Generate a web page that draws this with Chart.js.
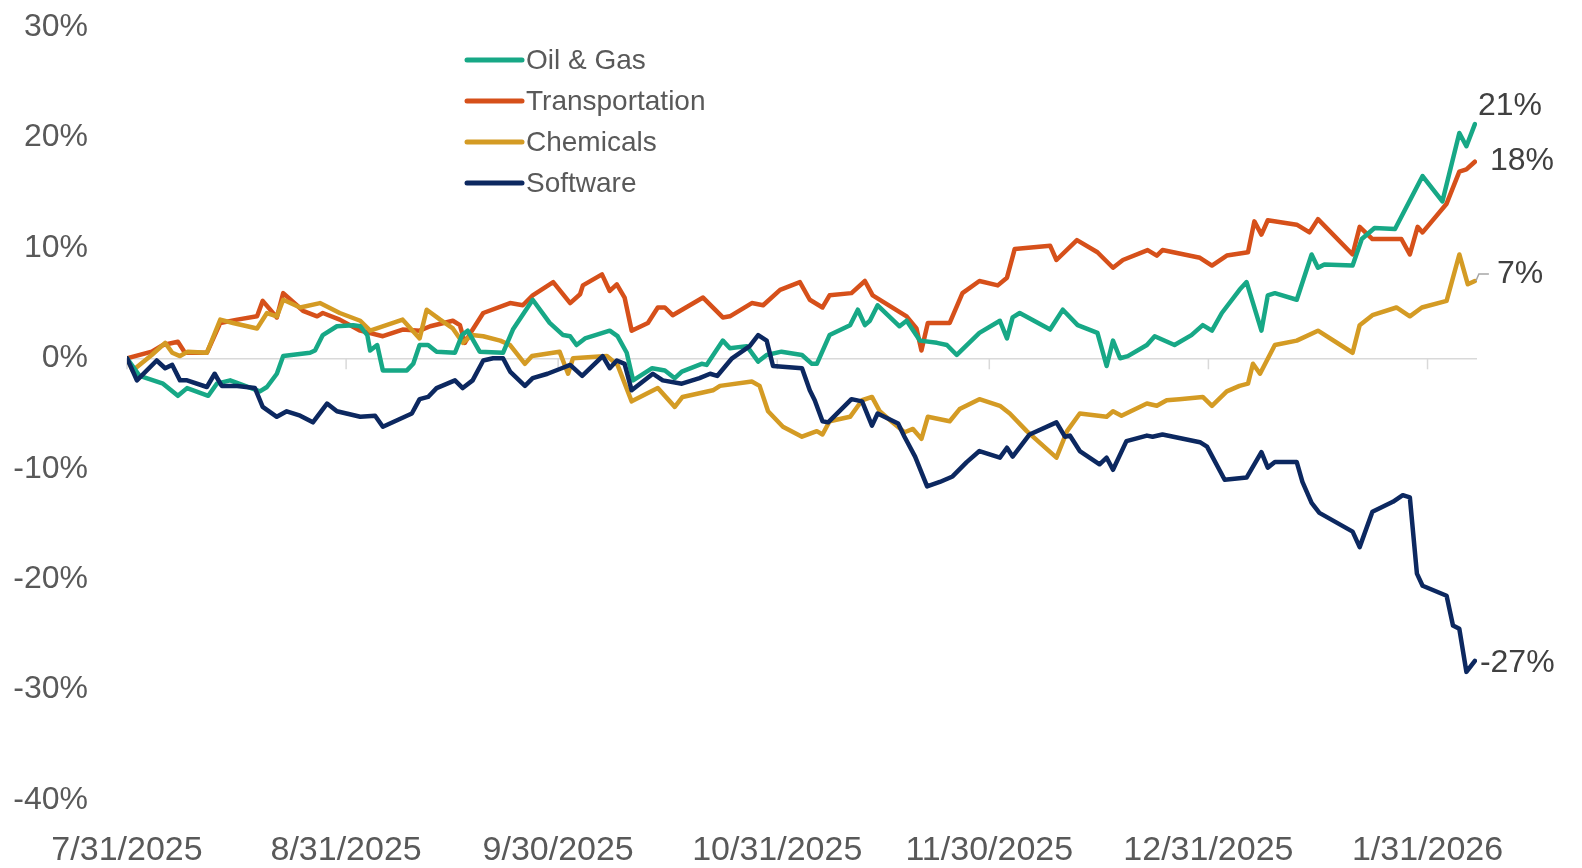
<!DOCTYPE html>
<html>
<head>
<meta charset="utf-8">
<script src="https://cdn.jsdelivr.net/npm/chart.js@4.4.1/dist/chart.umd.min.js"></script>
<style>
  html, body { margin: 0; padding: 0; background: #ffffff; }
  #wrap { width: 1582px; height: 868px; position: relative; }
</style>
</head>
<body>
<div id="wrap"><canvas id="chart"></canvas></div>
<script>
// x values are days since 7/31/2025, y values are % change
const seriesNames = ['Oil & Gas', 'Transportation', 'Chemicals', 'Software'];

const oilDays = [0,1.8,5.1,7.2,8.5,11.5,12.7,14.6,18.8,19.8,21.2,22.1,25.9,26.6,27.7,29.7,32,33,34,34.4,35.4,36.2,39.6,40.5,41.4,42.6,43.8,46.4,47.4,48.2,49.9,53.2,54.6,57.4,59.8,61.7,62.7,63.6,64.8,68.3,69.4,70.7,71.6,72.6,74.3,76.1,77.5,78.5,81.3,82,84.3,85.3,87.7,89.3,90.5,92.6,95.5,96.9,97.6,99.4,102.3,103.4,104.4,105.1,106.2,109.3,110.3,112.2,114.6,116,117.4,120.6,123.5,124.5,125.3,126.3,130.6,132.4,134.5,137.3,138.6,139.5,140.5,141.6,144.3,145.4,148.2,150.6,152.2,153.5,154.9,157.4,158.4,160.5,161.4,162.4,165.5,167.6,168.5,169.4,173.4,174.7,176.5,179.4,183.3,186.1,188.5,189.5,190.7];
const oilVals = [0,-1.6,-2.3,-3.4,-2.7,-3.4,-2.3,-2.0,-3.0,-2.6,-1.4,0.2,0.5,0.7,2.1,2.9,3.0,2.9,2.1,0.7,1.2,-1.1,-1.1,-0.5,1.2,1.2,0.6,0.5,2.1,2.5,0.6,0.5,2.6,5.3,3.2,2.1,2.0,1.2,1.8,2.5,2.0,0.5,-2.0,-1.6,-0.9,-1.1,-1.8,-1.2,-0.5,-0.6,1.6,0.9,1.1,-0.3,0.3,0.6,0.3,-0.5,-0.5,2.1,3.0,4.4,3.0,3.4,4.8,2.9,3.4,1.6,1.4,1.2,0.3,2.3,3.4,1.8,3.7,4.1,2.6,4.4,3.0,2.3,-0.7,1.6,0.0,0.2,1.2,2.0,1.2,2.1,3.0,2.5,4.1,6.2,6.9,2.5,5.7,5.9,5.3,9.4,8.2,8.5,8.4,10.8,11.8,11.7,16.5,14.2,20.4,19.2,21.2];

const transDays = [0,3.5,5.1,7.2,8.2,11.3,13.2,15.6,18.4,19.2,21.2,22.1,24.9,26.9,27.7,30.1,33,36.2,39,41.4,42.9,46.1,47.1,47.8,48.8,50.4,54.2,56,57.4,60.3,62.7,64.1,64.5,67.2,68.3,69.3,70.4,71.4,73.7,75.1,76.1,77.2,81.5,84.3,85.3,88.4,90,92.4,95.2,96.6,98.4,99.4,102.5,104.4,105.5,110.3,111.7,112.4,113.3,116.4,118.2,120.6,123.2,124.5,125.6,130.6,131.5,134.4,137.3,139.5,140.9,144.4,145.7,146.5,151.8,153.5,155.6,158.6,159.5,160.5,161.4,165.5,167.3,168.5,173.4,174.4,176.2,180.3,181.5,182.6,183.3,186.7,188.5,189.5,190.7];
const transVals = [0,0.6,1.2,1.5,0.5,0.5,3.2,3.5,3.8,5.2,3.7,5.9,4.3,3.8,4.1,3.5,2.5,2.0,2.6,2.5,2.9,3.4,3.0,1.4,2.5,4.1,5.0,4.8,5.7,6.9,5.0,5.8,6.6,7.6,6.1,6.7,5.5,2.5,3.2,4.6,4.6,3.9,5.5,3.7,3.8,5.0,4.8,6.2,6.9,5.3,4.6,5.7,5.9,7.0,5.7,3.8,2.7,0.7,3.2,3.2,5.9,7.0,6.6,7.3,9.9,10.2,8.9,10.7,9.6,8.2,8.9,9.8,9.3,9.8,9.1,8.4,9.3,9.6,12.4,11.2,12.5,12.1,11.4,12.6,9.4,11.9,10.8,10.8,9.4,11.9,11.4,14.0,16.9,17.1,17.8];

const chemDays = [0,0.8,3.5,5.4,6.4,7.5,8.6,11.3,13.2,15,18.4,19.8,21.2,22.1,24.5,27.3,30.1,33,34.4,39,41.4,42.4,44.3,46.1,47.5,48.8,50.4,52.8,54.2,56.3,57.3,61.2,62.4,63.1,67.9,69.4,71.4,75.1,77.5,78.6,82.9,83.9,88.4,89.5,90.7,92.8,95.5,97.6,98.4,99.4,102.3,104,105.4,106.5,108.3,110,111.2,112.4,113.3,116.4,117.8,120.6,123.5,124.9,127.3,131.5,133,134.8,138.6,139.5,140.7,144.3,145.7,147.1,148.9,152.2,153.5,155.6,157.4,158.6,159.3,160.3,162.4,165.5,168.5,173.4,174.4,176.2,179.6,181.5,183.2,186.7,188.5,189.7,190.7];
const chemVals = [0,-1.1,0.3,1.4,0.5,0.2,0.6,0.5,3.5,3.2,2.7,4.1,3.8,5.3,4.6,5.0,4.1,3.4,2.5,3.5,1.8,4.4,3.5,2.7,1.4,2.1,2.0,1.6,1.2,-0.5,0.2,0.6,-1.4,0.0,0.2,-0.6,-3.9,-2.7,-4.4,-3.5,-2.9,-2.5,-2.1,-2.5,-4.8,-6.2,-7.1,-6.6,-6.9,-5.7,-5.3,-3.8,-3.5,-4.8,-5.8,-6.7,-6.4,-7.3,-5.3,-5.7,-4.6,-3.7,-4.3,-5.0,-6.6,-9.0,-6.6,-5.0,-5.3,-4.8,-5.2,-4.1,-4.3,-3.8,-3.7,-3.5,-4.3,-3.0,-2.5,-2.3,-0.5,-1.4,1.2,1.6,2.5,0.5,3.0,3.9,4.6,3.8,4.6,5.2,9.4,6.7,7.0];

const softDays = [0,1.4,4.2,5.4,6.4,7.5,8.5,11.3,12.4,13.4,15.6,18.1,19.2,21.2,22.6,24.5,26.3,28.3,29.7,33,35.1,36.2,40.3,41.4,42.6,43.8,46.4,47.5,48.9,50.4,51.8,53.2,54.2,56.3,57.4,59.5,61.5,62.7,64.4,67.3,68.3,69.3,70.4,71.4,74.4,75.8,78.5,81,82.5,83.5,85.6,88.1,89.3,90.5,91.4,95.5,96.6,97.3,98.4,99.2,102.5,104,105.4,106.2,109.1,110,111.5,113.2,115,116.8,118.8,120.6,123.5,124.5,125.3,127.7,131.5,132.7,133.4,134.8,137.6,138.6,139.5,141.4,144.3,145.1,146.5,151.8,152.8,155.3,158.4,160.5,161.4,162.4,165.5,166.3,167.6,168.7,173.4,174.4,176.2,179.1,180.5,181.5,182.5,183.3,186.7,187.6,188.5,189.5,190.7];
const softVals = [0,-2.0,-0.2,-0.9,-0.6,-2.0,-2.0,-2.6,-1.4,-2.5,-2.5,-2.7,-4.4,-5.3,-4.8,-5.2,-5.8,-4.1,-4.8,-5.3,-5.2,-6.2,-5.0,-3.7,-3.5,-2.7,-2.0,-2.7,-2.0,-0.2,0,0,-1.2,-2.5,-1.8,-1.4,-0.9,-0.6,-1.6,0.2,-0.9,-0.2,-0.5,-2.9,-1.4,-2.0,-2.3,-1.8,-1.4,-1.6,0,1.1,2.1,1.6,-0.7,-0.9,-2.9,-3.8,-5.7,-5.8,-3.7,-3.9,-6.1,-5.0,-5.9,-7.1,-8.9,-11.6,-11.2,-10.7,-9.4,-8.4,-9.0,-8.1,-8.9,-6.9,-5.8,-7.1,-7.0,-8.4,-9.6,-9.0,-10.1,-7.5,-7.0,-7.1,-6.9,-7.6,-8.0,-11.0,-10.8,-8.5,-9.9,-9.4,-9.4,-11.2,-13.1,-14.0,-15.7,-17.1,-13.9,-13.0,-12.4,-12.6,-19.5,-20.6,-21.5,-24.2,-24.5,-28.4,-27.4];

// month-end tick positions (days since 7/31/2025) and their labels
const monthTicks = [0, 31, 61, 92, 122, 153, 184];
const monthLabels = ['7/31/2025', '8/31/2025', '9/30/2025', '10/31/2025', '11/30/2025', '12/31/2025', '1/31/2026'];
const yTicks = [-40, -30, -20, -10, 0, 10, 20, 30];

const colors = ['#17a886', '#d6501a', '#d49b24', '#0c2860'];
const drawOrder = [1, 3, 2, 0];
// where each end label sits relative to the last point
const endLabelOffsets = [
    { dx: 3, dy: -18 },
    { dx: 15, dy: -1 },
    { dx: 22, dy: -7, leader: true },
    { dx: 5, dy: 2 }
];

function toPoints(days, vals) {
    return days.map((d, i) => ({ x: d, y: vals[i] }));
}

const allDays = [oilDays, transDays, chemDays, softDays];
const allVals = [oilVals, transVals, chemVals, softVals];

const datasets = seriesNames.map((name, i) => ({
    label: name,
    data: toPoints(allDays[i], allVals[i]),
    borderColor: colors[i],
    backgroundColor: colors[i],
    borderWidth: 4.5,
    pointRadius: 0,
    tension: 0,
    fill: false,
    order: drawOrder[i],
    borderJoinStyle: 'round',
    borderCapStyle: 'round'
}));

const axisFont = 'Liberation Sans, Arial, sans-serif';
const axisColor = '#595959';

// zero tick marks, legend and end labels
const extrasPlugin = {
    id: 'extras',
    beforeDatasetsDraw(chart) {
        const { ctx, scales: { x, y } } = chart;
        const y0 = y.getPixelForValue(0);
        ctx.save();
        ctx.strokeStyle = '#d9d9d9';
        ctx.lineWidth = 1.5;
        monthTicks.forEach(d => {
            const px = x.getPixelForValue(d);
            ctx.beginPath();
            ctx.moveTo(px, y0);
            ctx.lineTo(px, y0 + 11);
            ctx.stroke();
        });
        ctx.restore();
    },
    afterDatasetsDraw(chart) {
        const { ctx, scales: { x, y } } = chart;
        ctx.save();

        // legend
        const lx = 467, ly = 60, gap = 41;
        chart.data.datasets.forEach((ds, i) => {
            const yy = ly + i * gap;
            ctx.strokeStyle = ds.borderColor;
            ctx.lineWidth = 5;
            ctx.lineCap = 'round';
            ctx.beginPath();
            ctx.moveTo(lx, yy);
            ctx.lineTo(lx + 55, yy);
            ctx.stroke();
            ctx.fillStyle = axisColor;
            ctx.font = '28px ' + axisFont;
            ctx.textAlign = 'left';
            ctx.textBaseline = 'middle';
            ctx.fillText(ds.label, lx + 59, yy + 1);
        });

        // end labels
        chart.data.datasets.forEach((ds, i) => {
            const last = ds.data[ds.data.length - 1];
            const px = x.getPixelForValue(last.x);
            const py = y.getPixelForValue(last.y);
            const off = endLabelOffsets[i];
            if (off.leader) {
                ctx.strokeStyle = '#a6a6a6';
                ctx.lineWidth = 1.5;
                ctx.lineCap = 'butt';
                ctx.beginPath();
                ctx.moveTo(px + 1, py);
                ctx.lineTo(px + 4, py + off.dy);
                ctx.lineTo(px + 14, py + off.dy);
                ctx.stroke();
            }
            ctx.fillStyle = '#404040';
            ctx.font = '32px ' + axisFont;
            ctx.textAlign = 'left';
            ctx.textBaseline = 'middle';
            ctx.fillText(Math.round(last.y) + '%', px + off.dx, py + off.dy);
        });
        ctx.restore();
    }
};

const ctx = document.getElementById('chart').getContext('2d');
new Chart(ctx, {
    type: 'line',
    data: { datasets: datasets },
    plugins: [extrasPlugin],
    options: {
        responsive: true,
        maintainAspectRatio: false,
        animation: false,
        layout: { padding: { left: 0, right: 105, top: 27, bottom: 0 } },
        plugins: {
            legend: { display: false },
            tooltip: { enabled: false }
        },
        scales: {
            x: {
                type: 'linear',
                min: 0,
                max: 191,
                afterBuildTicks: scale => {
                    scale.ticks = monthTicks.map(v => ({ value: v }));
                },
                afterFit: scale => { scale.height = 68; },
                grid: { display: false, drawTicks: false },
                border: { display: false },
                ticks: {
                    autoSkip: false,
                    maxRotation: 0,
                    padding: 30,
                    color: axisColor,
                    font: { family: axisFont, size: 34 },
                    callback: (value, index) => monthLabels[index]
                }
            },
            y: {
                min: -40,
                max: 30,
                afterBuildTicks: scale => {
                    scale.ticks = yTicks.map(v => ({ value: v }));
                },
                afterFit: scale => {
                    scale.width = 127;
                    // the label gap should not push the plot down
                    scale.paddingTop = 19;
                    scale.paddingBottom = 19;
                },
                grid: {
                    drawTicks: false,
                    lineWidth: 1.5,
                    color: c => (c.tick && c.tick.value === 0) ? '#d9d9d9' : 'rgba(0,0,0,0)'
                },
                border: { display: false },
                ticks: {
                    padding: 39,
                    color: axisColor,
                    font: { family: axisFont, size: 32 },
                    callback: v => v + '%'
                }
            }
        }
    }
});
</script>
</body>
</html>
